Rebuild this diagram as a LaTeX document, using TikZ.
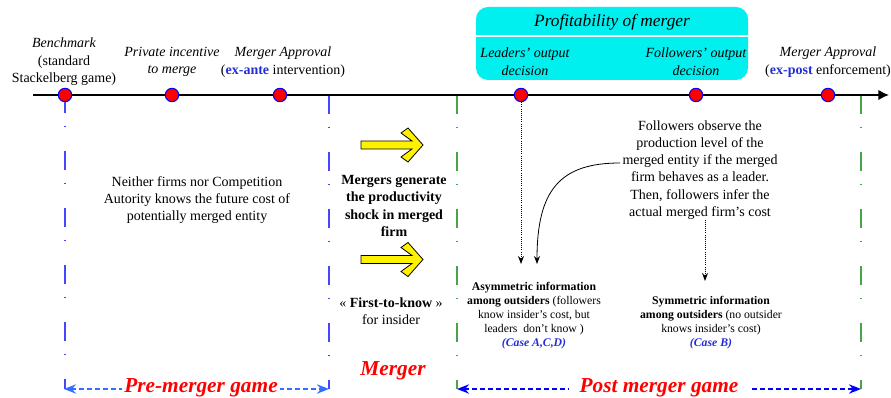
\documentclass[tikz,border=0pt]{standalone}
\usepackage{fontspec}
\setmainfont{Liberation Serif}
\usetikzlibrary{arrows.meta}

\definecolor{dashblue}{RGB}{70,70,255}
\definecolor{spanblue}{RGB}{50,110,255}
\definecolor{dashgreen}{RGB}{70,165,70}
\definecolor{profcyan}{RGB}{0,240,240}
\definecolor{markblue}{RGB}{35,45,215}

\begin{document}
\begin{tikzpicture}[x=0.75pt,y=0.75pt,yscale=-1,xscale=1,
  evt/.style={circle,draw=blue,fill=red,line width=0.8pt,minimum size=10pt,inner sep=0pt},
  lbl/.style={align=center,font=\fontsize{10.5}{13.2}\selectfont,inner sep=0pt},
  note/.style={align=center,font=\fontsize{10.5}{12.9}\selectfont,inner sep=0pt},
  small/.style={align=center,font=\fontsize{8.8}{10.6}\selectfont,inner sep=0pt},
  phase/.style={font=\fontsize{16}{18}\selectfont\bfseries\itshape,text=red,inner sep=1pt},
  bluedash/.style={color=dashblue,line width=1.5pt,dash pattern=on 14.25pt off 9.75pt on 0.75pt off 18pt},
  greendash/.style={color=dashgreen,line width=1.5pt,dash pattern=on 14.25pt off 9.75pt on 0.75pt off 18pt},
  span/.style={line width=1.5pt,dash pattern=on 3.5pt off 2.5pt,{Stealth[length=9pt,width=7pt]}-{Stealth[length=9pt,width=7pt]}},
  dotarrow/.style={densely dotted,line width=0.6pt,-{Stealth[length=6pt,width=4.5pt]}},
  yarrow/.style={draw=black,fill=yellow,line width=0.6pt,line join=miter}
]
\useasboundingbox (0,0) rectangle (891,398);

%Coordinates of the time line and of the phase limits
\coordinate (tl0) at (33,95);
\coordinate (tl1) at (889,95);
\coordinate (m1) at (329,95);
\coordinate (g0) at (457,95);
\coordinate (g1) at (861,95);
\coordinate (p0) at (64,389);
\coordinate (p1) at (329,389);
\coordinate (q0) at (457,389);
\coordinate (q1) at (861,389);
\coordinate (sep) at (0,36);

%Shape: profitability box
\node [fill=profcyan,rounded corners=9pt,minimum width=204pt,minimum height=54.75pt,inner sep=0pt] (prof) at (612,43.5) {};
\draw [white,line width=1.5pt] (prof.west |- sep) -- (prof.east |- sep);
\node [lbl,font=\fontsize{13}{15}\selectfont\itshape] (proftitle) at (612,22) {Profitability of merger};

%Phase limits
\draw [bluedash] (m1) -- (m1 |- p1);
\draw [greendash] (g0) -- (g0 |- q0);
\draw [greendash] (g1) -- (g1 |- q1);

%Time line
\draw [line width=1.5pt,-{Latex[length=8pt,width=8pt]}] (tl0) -- (tl1);

%Events
\node [evt] (bench) at (65,95) {};
\node [evt] (incent) at (172,95) {};
\node [evt] (exante) at (280,95) {};
\node [evt] (lead) at (521,95) {};
\node [evt] (foll) at (696,95) {};
\node [evt] (expost) at (828,95) {};
\draw [bluedash,dash phase=6pt] (bench.south) -- (bench.south |- p0);

% Text Node
\node [lbl] (benchtxt) at (64,62) {{\itshape Benchmark}\\(standard\\Stackelberg game)};
% Text Node
\node [lbl,font=\fontsize{10.5}{13.2}\selectfont\itshape] (incenttxt) at (172,62) {Private incentive\\to merge};
% Text Node
\node [lbl] (exantetxt) at (283,62) {{\itshape Merger Approval}\\({\color{markblue}\bfseries ex-ante} intervention)};
% Text Node
\node [lbl,font=\fontsize{10.5}{13.2}\selectfont\itshape] (leadtxt) at (525,62) {Leaders’ output\\decision};
% Text Node
\node [lbl,font=\fontsize{10.5}{13.2}\selectfont\itshape] (folltxt) at (696,62) {Followers’ output\\decision};
% Text Node
\node [lbl] (exposttxt) at (828,62) {{\itshape Merger Approval}\\({\color{markblue}\bfseries ex-post} enforcement)};

% Text Node
\node [note] (neither) at (197,200) {Neither firms nor Competition\\Autority knows the future cost of\\potentially merged entity};

%Shape: yellow arrows
\draw [yarrow] (361,141) -- ++(51,0) -- ++(-11,-8) -- ++(7,-5) -- ++(15,17) -- ++(-15,17) -- ++(-7,-5) -- ++(11,-8) -- ++(-51,0) -- cycle;
\draw [yarrow] (361,255.5) -- ++(51,0) -- ++(-11,-8) -- ++(7,-5) -- ++(15,17) -- ++(-15,17) -- ++(-7,-5) -- ++(11,-8) -- ++(-51,0) -- cycle;

% Text Node
\node [note,font=\fontsize{10.5}{12.9}\selectfont\bfseries] (shock) at (394,206) {Mergers generate\\the productivity\\shock in merged\\firm};
% Text Node
\node [note] (first) at (391,311.5) {« \textbf{First-to-know} »\\for insider};
% Text Node
\node [phase] (merger) at (393,371) {Merger};

% Text Node
\node [note] (obs) at (700,170) {Followers observe the\\production level of the\\merged entity if the merged\\firm behaves as a leader.\\Then, followers infer the\\actual merged firm’s cost};
% Text Node
\node [small] (asym) at (534,315.5) {\textbf{Asymmetric information}\\\textbf{among outsiders} (followers\\know insider’s cost, but\\leaders~ don’t know )\\{\color{markblue}\bfseries\itshape (Case A,C,D)}};
% Text Node
\node [small] (sym) at (711,322.5) {\textbf{Symmetric information}\\\textbf{among outsiders} (no outsider\\knows insider’s cost)\\{\color{markblue}\bfseries\itshape (Case B)}};

%Information arrows
\coordinate (cstart) at (620,163);
\coordinate (cend) at (537,264);
\coordinate (symin) at (705,281);
\draw [dotarrow] (lead) -- (lead |- cend);
\draw [line width=0.6pt,-{Stealth[length=6pt,width=4.5pt]}] (cstart) .. controls (560,163) and (537,190) .. (cend);
\draw [dotarrow] (obs.south -| symin) -- (symin);

%Phase spans
\draw [span,color=spanblue] (p0) -- (p1);
\node [phase,fill=white,inner xsep=2pt] (pre) at (201,388) {Pre-merger game};
\draw [span,color=blue] (q0) -- (q1);
\node [phase,fill=white,inner xsep=8pt] (post) at (659,388) {Post merger game};

\end{tikzpicture}
\end{document}
